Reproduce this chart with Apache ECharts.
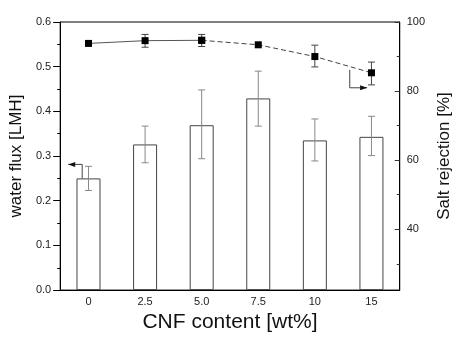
<!DOCTYPE html>
<html>
<head>
<meta charset="utf-8">
<script src="https://cdn.jsdelivr.net/npm/echarts@6/dist/echarts.min.js"></script>
<style>
  html, body { margin: 0; padding: 0; background: #fff; }
  #chart { width: 461px; height: 338px; }
</style>
</head>
<body>
<div id="chart"></div>
<script>
// CNF content categories
const categories = ['0', '2.5', '5.0', '7.5', '10', '15'];

// water flux (bars, left axis) and its error range
const flux = [0.25, 0.326, 0.369, 0.429, 0.335, 0.343];
const fluxLow = [0.223, 0.285, 0.294, 0.367, 0.289, 0.301];
const fluxHigh = [0.277, 0.367, 0.448, 0.490, 0.383, 0.389];

// salt rejection (line, right axis) and its error range
const rejection = [93.8, 94.6, 94.7, 93.4, 90.0, 85.3];
const rejLow = [null, 92.7, 92.9, null, 87.0, 81.8];
const rejHigh = [null, 96.4, 96.4, null, 93.3, 88.4];

// tick values
const rejMajor = [40, 60, 80, 100];
const rejMinor = [30, 50, 70, 90];

const font = 'Liberation Sans, Arial, sans-serif';

function errorBars(color) {
  return function (params, api) {
    const x = api.value(0);
    const lo = api.coord([x, api.value(1)]);
    const hi = api.coord([x, api.value(2)]);
    const w = 3.5;
    const style = { stroke: color, lineWidth: 1 };
    return {
      type: 'group',
      children: [
        { type: 'line', shape: { x1: lo[0], y1: lo[1], x2: hi[0], y2: hi[1] }, style },
        { type: 'line', shape: { x1: lo[0] - w, y1: lo[1], x2: lo[0] + w, y2: lo[1] }, style },
        { type: 'line', shape: { x1: hi[0] - w, y1: hi[1], x2: hi[0] + w, y2: hi[1] }, style },
      ],
    };
  };
}

// bent arrow: pts relative to anchor point, head drawn at the last point
function arrow(pts, dir) {
  return function (params, api) {
    const p = api.coord([api.value(0), api.value(1)]);
    const abs = pts.map((q) => [p[0] + q[0], p[1] + q[1]]);
    const end = abs[abs.length - 1];
    const head = dir < 0
      ? [[end[0], end[1]], [end[0] + 7, end[1] - 2.5], [end[0] + 7, end[1] + 2.5]]
      : [[end[0], end[1]], [end[0] - 7, end[1] - 2.5], [end[0] - 7, end[1] + 2.5]];
    return {
      type: 'group',
      children: [
        { type: 'polyline', shape: { points: abs }, style: { stroke: '#444', lineWidth: 1, fill: null } },
        { type: 'polygon', shape: { points: head }, style: { fill: '#111' } },
      ],
    };
  };
}

const chart = echarts.init(document.getElementById('chart'));

chart.setOption({
  backgroundColor: '#fff',
  animation: false,
  textStyle: { fontFamily: font },
  grid: {
    left: 57.7, right: 35.3, top: 22, bottom: 44.7,
    show: true, borderColor: '#000', borderWidth: 1, backgroundColor: 'transparent',
  },
  xAxis: {
    type: 'category',
    data: categories,
    name: 'CNF content [wt%]',
    nameLocation: 'middle',
    nameGap: 19,
    nameTextStyle: { fontSize: 21, color: '#111', fontFamily: font },
    axisLine: { lineStyle: { color: '#000', width: 1 } },
    axisTick: { show: false },
    axisLabel: { color: '#222', fontSize: 11, margin: 6, fontFamily: font },
    splitLine: { show: false },
  },
  yAxis: [
    {
      type: 'value',
      min: 0, max: 0.6, interval: 0.1,
      name: 'water flux [LMH]',
      nameLocation: 'middle',
      nameRotate: 90,
      nameGap: 32,
      nameTextStyle: { fontSize: 17, color: '#111', fontFamily: font },
      axisLine: { show: true, lineStyle: { color: '#000', width: 1 } },
      axisTick: { show: true, length: 7, lineStyle: { color: '#000' } },
      minorTick: { show: true, splitNumber: 2, length: 3, lineStyle: { color: '#000' } },
      axisLabel: { color: '#222', fontSize: 11, margin: 9, fontFamily: font, formatter: (v) => v.toFixed(1) },
      splitLine: { show: false },
    },
    {
      type: 'value',
      position: 'right',
      min: 22.4, max: 100,
      name: 'Salt rejection [%]',
      nameLocation: 'middle',
      nameRotate: 90,
      nameGap: 14,
      nameTextStyle: { fontSize: 17, color: '#111', fontFamily: font },
      axisLine: { show: true, lineStyle: { color: '#000', width: 1 } },
      axisTick: { show: true, inside: true, length: 5, customValues: rejMajor, lineStyle: { color: '#333' } },
      axisLabel: { color: '#222', fontSize: 11, margin: 7, fontFamily: font, customValues: rejMajor },
      splitLine: { show: false },
    },
    {
      type: 'value',
      position: 'right',
      min: 22.4, max: 100,
      axisLine: { show: false },
      axisTick: { show: true, inside: true, length: 3, customValues: rejMinor, lineStyle: { color: '#333' } },
      axisLabel: { show: false, customValues: rejMinor },
      splitLine: { show: false },
    },
  ],
  series: [
    {
      type: 'bar',
      data: flux,
      barWidth: 24,
      itemStyle: { color: '#fff', borderColor: '#444', borderWidth: 1 },
      z: 2,
    },
    {
      type: 'custom',
      renderItem: errorBars('#888'),
      data: categories.map((c, i) => [i, fluxLow[i], fluxHigh[i]]),
      z: 3,
    },
    {
      type: 'custom',
      yAxisIndex: 1,
      renderItem: errorBars('#444'),
      data: categories.map((c, i) => [i, rejLow[i], rejHigh[i]]).filter((d) => d[1] != null),
      z: 4,
    },
    {
      type: 'line',
      yAxisIndex: 1,
      data: rejection.map((v, i) => (i <= 2 ? v : null)),
      symbol: 'rect', symbolSize: 7,
      itemStyle: { color: '#000' },
      lineStyle: { color: '#555', width: 1 },
      z: 5,
    },
    {
      type: 'line',
      yAxisIndex: 1,
      data: rejection.map((v, i) => (i >= 2 ? v : null)),
      symbol: 'rect', symbolSize: 7,
      itemStyle: { color: '#000' },
      lineStyle: { color: '#444', width: 1, type: [5, 3] },
      z: 5,
    },
    {
      type: 'custom',
      renderItem: arrow([[-6.3, 0], [-6.3, -14], [-20.3, -14]], -1),
      data: [[0, flux[0]]],
      z: 6,
    },
    {
      type: 'custom',
      yAxisIndex: 1,
      renderItem: arrow([[-21.7, -3], [-21.7, 15], [-4.3, 15]], 1),
      data: [[5, rejection[5]]],
      z: 6,
    },
  ],
});
</script>
</body>
</html>
